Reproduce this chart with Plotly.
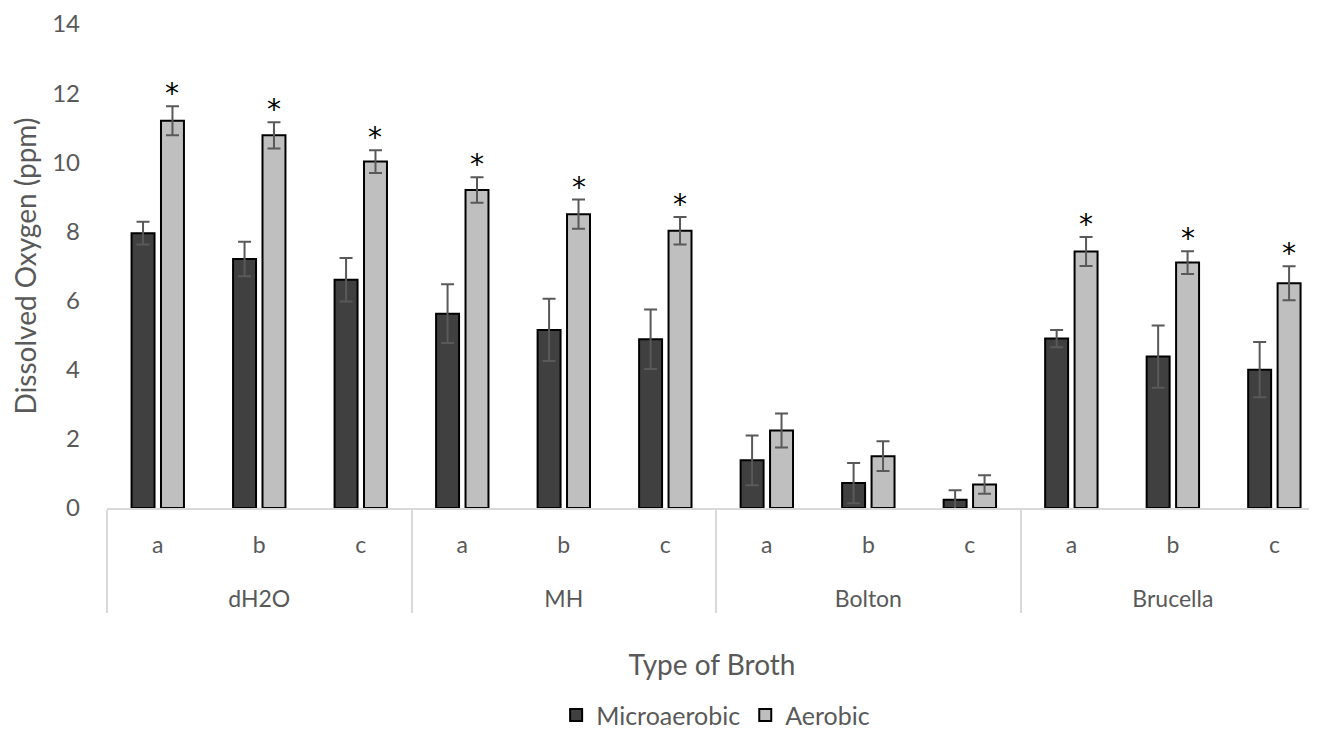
import plotly.graph_objects as go

broths = ["dH2O", "MH", "Bolton", "Brucella"]
subsets = ["a", "b", "c"]

micro_vals = [7.95, 7.2, 6.6, 5.62, 5.15, 4.88, 1.38, 0.72, 0.24, 4.9, 4.38, 4.0]
micro_err = [0.33, 0.5, 0.63, 0.85, 0.9, 0.86, 0.72, 0.58, 0.27, 0.25, 0.9, 0.8]
aer_vals = [11.2, 10.78, 10.02, 9.2, 8.5, 8.02, 2.24, 1.5, 0.68, 7.42, 7.1, 6.5]
aer_err = [0.42, 0.38, 0.33, 0.37, 0.42, 0.4, 0.49, 0.43, 0.27, 0.42, 0.33, 0.49]
significant = [True, True, True, True, True, True, False, False, False, True, True, True]

x_outer = [b for b in broths for _ in subsets]
x_inner = [s + "<br><span style='font-size:56px'> </span>" for _ in broths for s in subsets]

FONT = "Lato"
TXT = "#595959"
BARGAP = 0.42
BARGROUPGAP = 0.22

fig = go.Figure()
fig.add_trace(go.Bar(
    name="Microaerobic", x=[x_outer, x_inner], y=micro_vals,
    marker=dict(color="#404040", line=dict(color="black", width=2)),
    error_y=dict(type="data", array=micro_err, color="#595959", thickness=2, width=6.5),
))
fig.add_trace(go.Bar(
    name="Aerobic", x=[x_outer, x_inner], y=aer_vals,
    marker=dict(color="#bfbfbf", line=dict(color="black", width=2)),
    error_y=dict(type="data", array=aer_err, color="#595959", thickness=2, width=6.5),
))

# asterisks above aerobic bars (offset of the second bar in each group)
offset = (1 - BARGAP) / 4
for i, (v, e, s) in enumerate(zip(aer_vals, aer_err, significant)):
    if s:
        fig.add_annotation(x=i + offset, y=v + e, xref="x", yref="y", text="*",
                           showarrow=False, yanchor="bottom", yshift=-6,
                           font=dict(family="DejaVu Sans", size=28, color="black"))

fig.update_layout(
    width=1309, height=724, autosize=False,
    margin=dict(l=99, r=0, t=16, b=224, autoexpand=False),
    plot_bgcolor="white", paper_bgcolor="white",
    barmode="group", bargap=BARGAP, bargroupgap=BARGROUPGAP,
    font=dict(family=FONT, color=TXT, size=20),
    showlegend=True,
    legend=dict(orientation="h", x=0.503, xanchor="center", y=-0.428, yanchor="middle",
                font=dict(family=FONT, size=25, color=TXT), traceorder="normal",
                itemwidth=30),
)
fig.update_yaxes(
    range=[0, 14], dtick=2, showgrid=False, zeroline=False, showline=False,
    ticks="", ticklabelstandoff=26, automargin=False, ticklabeloverflow="allow",
    tickfont=dict(family=FONT, size=24, color=TXT),
    title=dict(text="Dissolved Oxygen (ppm)", standoff=12,
               font=dict(family=FONT, size=28, color=TXT)),
)
fig.update_xaxes(
    type="multicategory", range=[-0.5, 11.42], automargin=False,
    showline=True, linecolor="#d9d9d9", linewidth=2,
    showgrid=False, ticks="", showdividers=True, dividercolor="#d9d9d9", dividerwidth=2,
    ticklabelstandoff=15,
    tickfont=dict(family=FONT, size=23, color=TXT),
    title=dict(text="Type of Broth", standoff=45,
               font=dict(family=FONT, size=28, color=TXT)),
)

fig.write_html("out.html")
